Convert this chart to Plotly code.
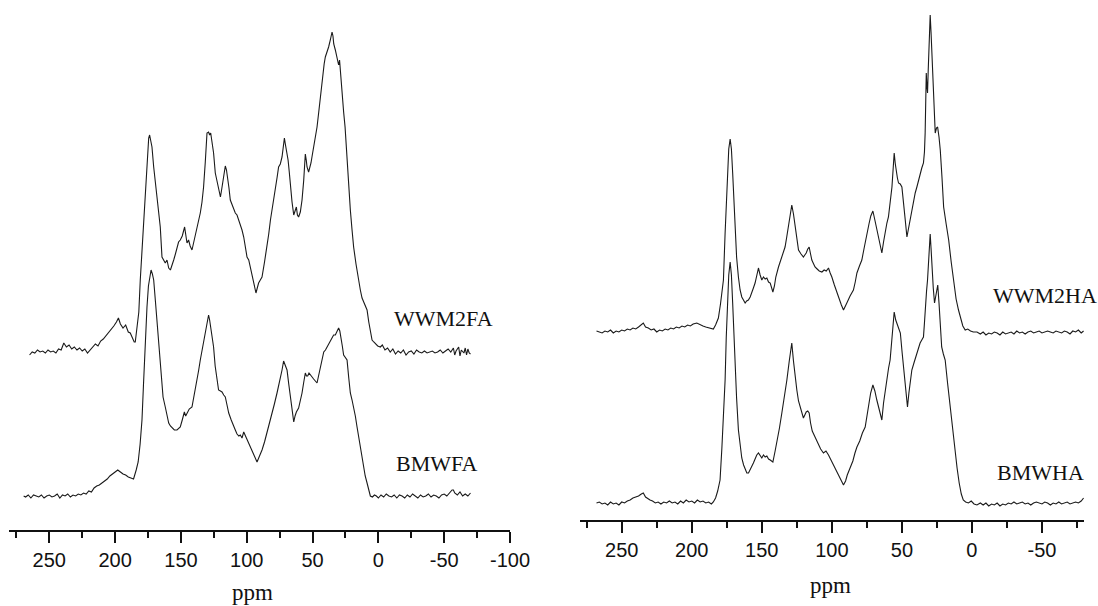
import plotly.graph_objects as go

# ---------------- data (ppm, intensity above own baseline; arbitrary units) ----------------
wwm2fa = [(265,-3),(263,0),(261,-1),(259,2),(257,0),(255,1),(253,-1),(251,2),(249,0),(247,1),(245,-1),(243,3),(241,2),(239,9),(237,5),(235,7),(233,3),(231,5),(229,2),(227,4),(225,1),(223,3),(221,-1),(219,2),(217,4),(215,8),(213,6),(211,11),(209,13),(207,16),(205,19),(203,22),(201,26),(199,30),(197.5,34),(196,28),(194,24),(192,27),(190,20),(188.5,19),(187,14),(185.5,10),(184.7,10),(183.4,22),(182,40),(180.9,72),(179.5,105),(178.5,130),(177.5,152),(176.5,180),(175.5,200),(174.5,214),(173.8,217),(173,212),(172,205),(170.7,185),(169.5,170),(168.2,159),(167,140),(165.7,125),(164.4,95),(163.2,92),(161.9,89),(160.6,92),(159.3,84),(158,82),(156.8,86),(155.5,92),(154.2,98),(153,105),(151.8,110),(150.5,112),(149,116),(147.2,125),(146.3,115),(145.4,109),(144.2,112),(143,106),(141.6,102),(140.3,110),(139,115),(137.5,124),(135.3,139),(134,150),(132.8,165),(131.5,190),(130.2,219),(129,220),(128.2,217),(127.4,219),(126.3,210),(125.2,199),(123.9,179),(122.6,170),(121.4,162),(120,155),(119,163),(118,172),(116.3,186),(115.4,182),(114.5,175),(113.5,164),(112.5,152),(110.5,146),(108.7,139),(107.4,137),(106,132),(104.8,128),(103.6,122),(102.3,115),(101,104),(99.8,95),(98.5,92),(97.3,85),(96,79),(94.8,72),(94,65),(93,59),(92,64),(91,69),(89.7,72),(88.4,75),(86.5,90),(84.6,105),(83.3,118),(82,132),(80,148),(78.1,162),(76.9,175),(75.8,185),(74.5,188),(73.2,195),(72.3,205),(71.4,214),(70.7,208),(70.1,204),(69.3,198),(68.6,192),(67.7,180),(66.9,165),(65.6,150),(64.3,137),(63.3,142),(62.3,145),(61.5,137),(60.6,135),(59.3,140),(58,152),(56.7,172),(55.5,198),(54.8,192),(54.2,185),(53,180),(52.1,184),(51.2,189),(50.2,197),(49.2,205),(47.9,213),(46.6,225),(45.3,240),(44.1,255),(43.1,270),(42.1,282),(41.2,288),(40.3,295),(39,300),(37.8,305),(36.5,312),(35.2,320),(34.5,316),(33.9,308),(32.7,302),(31.8,296),(31,290),(30.2,287),(29.5,292),(28.6,275),(27.6,259),(26.4,240),(25.3,225),(23.8,192),(22.5,165),(21.3,142),(20,122),(18.8,105),(17,88),(15,70),(13.7,62),(12.4,54),(10.5,48),(8.6,42),(7.3,30),(6.1,19),(4.8,12),(3.5,10),(2.3,8),(0.5,6),(-1.5,5),(-3,7),(-5,2),(-7,4),(-9,0),(-11,3),(-13,-2),(-15,1),(-17,-1),(-19,2),(-21,-3),(-23,0),(-25,1),(-27,-2),(-29,2),(-31,0),(-33,-1),(-35,1),(-37,-1),(-39,0),(-41,1),(-43,-1),(-45,0),(-47,2),(-49,-1),(-51,1),(-53,3),(-55,0),(-57,4),(-58,-3),(-59,1),(-61,5),(-62,-4),(-63,2),(-65,-1),(-66,4),(-67,-3),(-68,3),(-69,-1),(-70,-2)]

bmwfa = [(269.5,0),(268,-1),(266,1),(264,-2),(262,1),(260,0),(258,-1),(256,1),(254,-2),(252,0),(250,1),(248,-1),(246,0),(244,2),(242,-2),(240,1),(238,0),(236,2),(234,-1),(232,1),(230,0),(228,2),(226,1),(224,3),(222,2),(220,5),(218,4),(216,8),(214,10),(212,11),(210,13),(208,15),(206,17),(204,20),(202,22),(200,24),(198,26),(196,24),(194,22),(192,21),(190,19),(188,18),(186,17),(184,26),(182.5,34),(181,52),(179.6,76),(178.5,110),(177.8,133),(176.8,160),(175.8,189),(174.7,210),(173.6,222),(172.7,226),(171.7,222),(170.7,216),(169.4,195),(168.2,176),(167,155),(165.7,133),(164.6,113),(163.6,99),(161.9,89),(160.6,80),(159.3,73),(158,70),(156.8,68),(155,66),(153,66),(151.7,68),(150.5,69),(149,76),(147.4,84),(146.4,80),(145.4,83),(143.7,87),(141.6,89),(139.7,102),(137.8,116),(136.5,126),(135.3,136),(134,146),(132.8,156),(131,170),(129,181),(128.2,176),(127.4,169),(126.3,159),(125.2,149),(124,130),(122.6,116),(121.4,106),(120,105),(118.8,104),(117.5,101),(116.3,99),(115,91),(113.7,83),(111.8,76),(110,69),(108.7,66),(107.4,62),(106,60),(104.9,61),(103.6,58),(102.3,64),(101,60),(99.8,56),(98,50),(96,44),(94,38),(92.2,34),(90.3,40),(88.4,46),(86.5,54),(84.6,63),(82.7,73),(80.8,83),(79,92),(77,103),(75.7,110),(74.5,116),(73.2,126),(72,135),(70.7,131),(69.4,126),(68.1,112),(66.9,99),(65.6,86),(64.3,74),(63.3,80),(62.3,84),(60.6,88),(59.3,95),(58,103),(56.8,113),(55.5,123),(54.6,120),(53.7,120),(52.7,123),(51.7,121),(50.5,119),(49.2,117),(47.9,115),(46.6,113),(45.3,121),(44.1,129),(42.8,137),(41.5,144),(40.2,146),(39,149),(37,155),(35.2,159),(34,161),(32.7,161),(31.5,165),(30.2,168),(29.3,165),(28.4,159),(27.4,150),(26.4,141),(25.1,138),(23.8,136),(22.5,118),(21.3,103),(20,96),(18.8,89),(17.5,80),(16.2,69),(15,59),(13.7,49),(12.4,39),(11.2,29),(10,20),(8.6,13),(7.3,6),(6.1,0),(4.5,-1),(3,1),(1.5,0),(0,-2),(-2,1),(-4,-1),(-6,2),(-8,0),(-10,-1),(-12,1),(-14,-2),(-16,1),(-18,0),(-20,-2),(-22,1),(-24,-1),(-26,2),(-28,0),(-30,-2),(-32,1),(-34,-1),(-36,0),(-38,2),(-40,-1),(-42,1),(-44,0),(-46,-2),(-48,1),(-50,2),(-52,0),(-54,3),(-56,6),(-57,6),(-58,3),(-60,1),(-62,4),(-64,0),(-66,2),(-68,0),(-70,3)]

wwm2ha = [(268,1),(266,0),(264,-1),(262,1),(260,0),(258,2),(256,-1),(254,1),(252,0),(250,2),(248,1),(246,3),(244,2),(242,4),(240,3),(238,5),(236,7),(234.6,9),(233,5),(231,4),(229,2),(227,3),(225,0),(223,2),(221,1),(219,3),(217,2),(215,4),(213,3),(211,5),(209,4),(207,6),(205,5),(203,7),(201,6),(199,8),(196.4,9),(194,7),(192,6),(190,5),(188,4),(186,3),(184.6,3),(183,7),(181,14),(179.5,28),(178.5,38),(177.4,52),(176.2,99),(175.4,130),(174.6,159),(173.6,183),(172.6,193),(171.7,183),(170.8,159),(170,130),(169.1,99),(168,75),(166.7,55),(165.5,42),(164.3,35),(163,31),(161.9,29),(160.8,31),(159.6,32),(158.3,35),(157.1,39),(156,44),(154.8,49),(153.6,58),(152.4,64),(151.2,57),(150,52),(148.8,55),(147.6,53),(146.4,54),(145.2,50),(144,49),(143,44),(142.1,40),(141,46),(140,55),(138.1,65),(135.8,75),(133.4,85),(132.2,95),(131,105),(129.8,118),(128.6,127),(127.4,118),(126.2,105),(125,92),(123.8,82),(122,78),(120.3,75),(119.3,77),(118.3,79),(117.2,83),(116.2,85),(115.2,78),(114.3,72),(113,68),(112,65),(110.5,63),(109,61),(107.1,60),(105.5,62),(104,61),(102.4,64),(101.2,59),(100,55),(98.2,47),(96.4,39),(94.8,32),(93.2,27),(91.7,22),(90.5,25),(89.3,29),(87,36),(84.6,42),(83.3,50),(82.1,59),(80.3,66),(78.6,72),(76.8,85),(75,99),(73.5,108),(72.2,116),(70.7,121),(69.3,112),(67.9,102),(66.1,90),(64.3,79),(63.1,90),(61.9,102),(60.7,109),(59.6,115),(58.3,130),(57.1,145),(56.3,162),(55.5,179),(54.7,168),(54,160),(53.2,154),(52.4,149),(51.2,148),(50,145),(48.9,132),(47.6,112),(46.4,95),(45.2,104),(44.1,115),(42.9,124),(41.7,132),(40.5,139),(39.3,145),(38.1,152),(37,159),(35.8,164),(34.6,169),(33.9,180),(33.4,199),(32.9,240),(32.6,259),(32.1,245),(31.7,239),(31.2,262),(30.7,282),(30.2,300),(29.8,317),(29.2,300),(28.6,282),(28,255),(27.4,232),(26.8,212),(26.2,199),(25.3,204),(24.5,205),(23.5,195),(22.6,182),(21.4,155),(20.2,125),(18.4,108),(16.6,92),(14.8,70),(13.1,49),(11.3,33),(9.6,22),(8,12),(6.5,6),(4.8,2),(3,3),(1,1),(-1,0),(-3.6,0),(-6,-2),(-8,0),(-10,-3),(-12,-1),(-14,-2),(-16,0),(-18,-1),(-20,-3),(-22,0),(-24,-2),(-26,-1),(-28,0),(-30,-2),(-32,1),(-34,-1),(-36,0),(-38,-2),(-40,0),(-42,1),(-44,-1),(-46,0),(-48,1),(-50,-1),(-52,0),(-54,1),(-56,0),(-58,-1),(-60,1),(-62,0),(-64,-1),(-66,1),(-68,0),(-70,-2),(-72,1),(-74,0),(-76,2),(-78,-1),(-79.7,1)]

bmwha = [(268,0),(266,1),(264,-1),(262,0),(260,-2),(258,1),(256,-1),(254,0),(252,-2),(250,1),(248,0),(246,2),(244,3),(242,5),(240,6),(238,7),(236,9),(234.6,10),(233,6),(231,4),(229.8,3),(228,2),(226,0),(224,1),(222,-1),(220,1),(218,0),(216,2),(214,0),(212,1),(210,-1),(208,2),(206,0),(204,3),(202,1),(200,2),(198,0),(196,3),(194,1),(192,2),(190,0),(188,1),(186,-1),(184.6,1),(183,5),(181.5,12),(179.8,23),(178.5,55),(177.3,90),(176.2,123),(175.4,165),(174.6,200),(173.6,228),(172.6,241),(171.7,228),(170.8,200),(170,170),(169.1,140),(168,105),(166.7,73),(165.5,55),(164.3,45),(163,38),(161.9,33),(160.7,30),(159.5,30),(158.3,33),(157.1,36),(156,40),(154.8,44),(153.6,48),(152.4,50),(151.2,47),(150,45),(148.8,48),(147.6,46),(146.4,47),(145.2,44),(144,43),(142.1,41),(140.5,52),(139,62),(137.4,75),(135.7,90),(133.9,106),(132.1,123),(130.4,142),(128.6,160),(127.4,142),(126.2,126),(125,113),(123.8,102),(122,92),(120.3,85),(119.3,88),(118.3,91),(117.2,92),(116.2,90),(115.2,80),(114,72),(112,66),(110,60),(108,54),(106,50),(104.2,52),(102.4,48),(101,44),(99.3,40),(97.6,35),(95.6,28),(93.6,22),(91.7,18),(90.2,22),(89,28),(87,35),(85,42),(83.5,50),(82.1,56),(80.1,62),(78.2,70),(76.2,76),(75,88),(73.8,100),(72.3,110),(70.7,118),(69.3,112),(67.9,103),(66.1,92),(64.3,83),(63.1,100),(61.9,113),(60.7,126),(59.5,135),(58.4,143),(57.4,160),(56.5,178),(55.5,191),(54.4,183),(53.3,178),(52.2,175),(51.1,170),(49.8,150),(48.5,130),(47.2,110),(46,96),(45,110),(43.9,124),(42.9,133),(41.4,140),(39.9,147),(38.4,153),(37,160),(35.8,163),(34.6,166),(33.9,180),(33.2,200),(32.4,212),(31.7,223),(31,245),(30.4,260),(29.8,269),(29.2,255),(28.5,235),(27.6,215),(26.7,200),(26.2,205),(25.5,212),(24.4,218),(23.5,200),(22.5,175),(21.6,156),(20.4,149),(19.1,143),(17.4,120),(15.6,96),(13.8,72),(12.1,50),(10.6,35),(9.1,20),(7.6,9),(6.2,3),(4.5,1),(2.5,0),(0.5,2),(-1.5,-1),(-3.6,-2),(-6,0),(-8,-2),(-10,0),(-12,-3),(-14,-1),(-16,-2),(-18,0),(-20,-3),(-22,-1),(-24,-2),(-26,0),(-28,-1),(-30,1),(-32,-1),(-34,0),(-36,1),(-38,-1),(-40,0),(-42,-2),(-44,0),(-46,1),(-48,0),(-50,-1),(-52,1),(-54,0),(-56,-2),(-58,0),(-60,-1),(-62,1),(-64,-1),(-66,0),(-68,1),(-70,-1),(-72,0),(-74,1),(-76,0),(-78,2),(-79.7,5)]

left_ticks = [250, 200, 150, 100, 50, 0, -50, -100]
left_ticktext = ["250", "200", "150", "100", "50", "0", "-50", "-100"]
right_ticks = [250, 200, 150, 100, 50, 0, -50]
right_ticktext = ["250", "200", "150", "100", "50", "0", "-50"]

# ---------------- style / layout ----------------
W, H = 1098, 606
LINE = dict(color="#1a1a1a", width=1.1)
offsets = {"WWM2FA": 178, "BMWFA": 34, "WWM2HA": 188, "BMWHA": 17}

fig = go.Figure()

def add(series, name, xa, ya):
    x = [p[0] for p in series]
    y = [p[1] + offsets[name] for p in series]
    fig.add_trace(go.Scatter(x=x, y=y, mode="lines", line=LINE, name=name,
                             xaxis=xa, yaxis=ya, showlegend=False, hoverinfo="skip"))

add(wwm2fa, "WWM2FA", "x", "y")
add(bmwfa, "BMWFA", "x", "y")
add(wwm2ha, "WWM2HA", "x2", "y2")
add(bmwha, "BMWHA", "x2", "y2")

tickfont = dict(family="Liberation Sans, Arial, sans-serif", size=20, color="#111")
axis_common = dict(showline=True, linecolor="#111", linewidth=1.5, ticks="outside",
                   ticklen=11, tickwidth=1.5, tickcolor="#111", showgrid=False,
                   zeroline=False, tickfont=tickfont, automargin=False,
                   minor=dict(dtick=25, ticks="outside", ticklen=6, tickwidth=1.5,
                              tickcolor="#111", showgrid=False))

left_x0, left_x1 = 9.3, 510.0
right_x0, right_x1 = 579.7, 1084.0
left_axis_y, right_axis_y = 530, 520

fig.update_layout(
    width=W, height=H, autosize=False, showlegend=False,
    margin=dict(l=0, r=0, t=0, b=0, pad=0),
    paper_bgcolor="white", plot_bgcolor="white",
    xaxis=dict(domain=[left_x0 / W, left_x1 / W], range=[280.4, -100],
               tickmode="array", tickvals=left_ticks, ticktext=left_ticktext,
               anchor="y", **axis_common),
    yaxis=dict(domain=[(H - left_axis_y) / H, 1], range=[0, left_axis_y],
               visible=False, anchor="x"),
    xaxis2=dict(domain=[right_x0 / W, right_x1 / W], range=[280, -80],
                tickmode="array", tickvals=right_ticks, ticktext=right_ticktext,
                anchor="y2", **axis_common),
    yaxis2=dict(domain=[(H - right_axis_y) / H, 1], range=[0, right_axis_y],
                visible=False, anchor="x2"),
)

serif = dict(family="Liberation Serif, Times New Roman, serif", size=22, color="#111")
# (text, x px, y px, xanchor, yanchor) – every box kept inside the page so no margin push
labels = [("WWM2FA", 443.3, 318.3, "center", "middle"),
          ("BMWFA", 437, 463.3, "center", "middle"),
          ("WWM2HA", 1098, 295.8, "right", "middle"),
          ("BMWHA", 1040, 472, "center", "middle"),
          ("ppm", 252.5, 606, "center", "bottom"),
          ("ppm", 830, 585, "center", "middle")]
for text, px, py, xan, yan in labels:
    fig.add_annotation(text=text, x=px / W, y=1 - py / H, xref="paper", yref="paper",
                       xanchor=xan, yanchor=yan, showarrow=False, borderpad=0,
                       font=dict(serif, size=23 if text == "ppm" else 22))

fig.write_html("out.html")
